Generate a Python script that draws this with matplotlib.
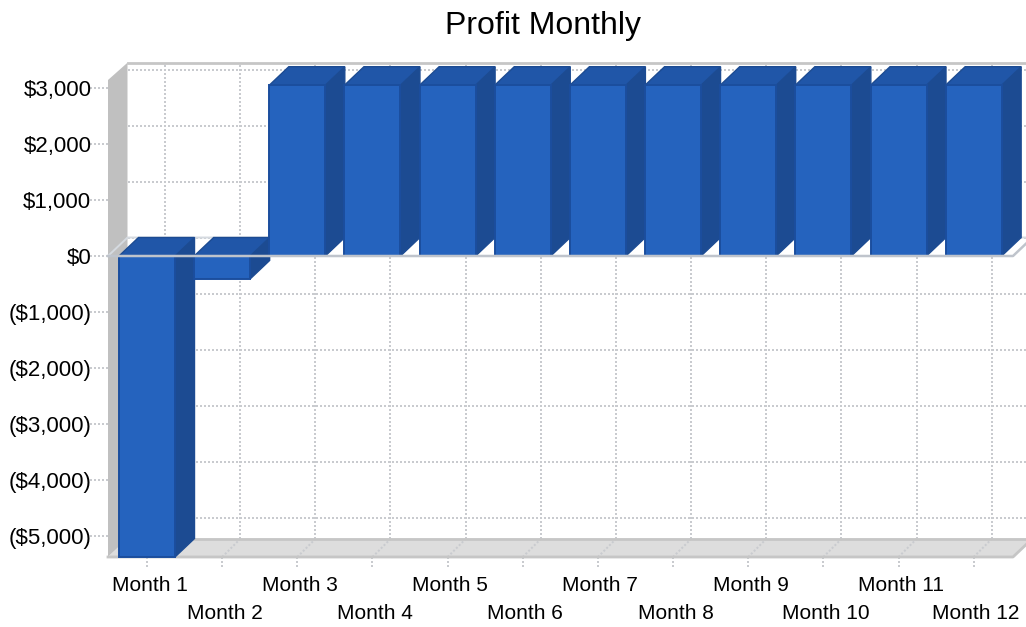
import matplotlib
matplotlib.use('Agg')
import matplotlib.pyplot as plt
from matplotlib.patches import Polygon
from matplotlib.transforms import ScaledTranslation

months = ['Month 1', 'Month 2', 'Month 3', 'Month 4', 'Month 5', 'Month 6',
          'Month 7', 'Month 8', 'Month 9', 'Month 10', 'Month 11', 'Month 12']
profit = [-5375, -410, 3050, 3050, 3050, 3050, 3050, 3050, 3050, 3050, 3050, 3050]
yticks = [3000, 2000, 1000, 0, -1000, -2000, -3000, -4000, -5000]
ylabels = ['$3,000', '$2,000', '$1,000', '$0', '($1,000)', '($2,000)',
           '($3,000)', '($4,000)', '($5,000)']

W, H = 1026, 627
FRONT = '#2563BE'
TOP = '#2056A8'
SIDE = '#1C4B92'
EDGE = '#1B4E9E'
WALL = '#C0C0C0'
FLOOR = '#DDDDDD'
LINE = '#C6C6C6'
GRID = '#C9CBCF'

plt.rcParams['font.family'] = ['Liberation Sans', 'DejaVu Sans']

fig = plt.figure(figsize=(W / 100, H / 100), dpi=100)
# axes rectangle is the front plane of the fake 3d box, in pixels
left, right, top, bottom = 108, 1013, 80, 557
ax = fig.add_axes([left / W, 1 - bottom / H, (right - left) / W, (bottom - top) / H])
ax.set_frame_on(False)

px_x = 75.15
px_y = 0.056
ax.set_xlim(1 + (left - 147) / px_x, 1 + (right - 147) / px_x)
ax.set_ylim((256 - bottom) / px_y, (256 - top) / px_y)
x0, x1 = ax.get_xlim()
y0, y1 = ax.get_ylim()

# depth of the box and bar width, in data units
dx = 19.5 / px_x
dy = 18.5 / px_y
gdx = 18 / px_x
gdy = 18 / px_y
bw = 56 / px_x
xs = list(range(1, 13))
ytop = y1 + 17.3 / px_y  # top of back wall

dots = dict(color=GRID, lw=1.44, ls=(0, (1, 1)), clip_on=False)

# back wall grid
for v in yticks:
    ax.plot([x0 + dx, x1 + dx], [v + gdy, v + gdy], zorder=1, **dots)
    ax.plot([x0 - 18 / px_x, x0], [v, v], zorder=1, **dots)
for x in xs:
    ax.plot([x + gdx, x + gdx], [y0 + dy, ytop], zorder=1, **dots)
    ax.plot([x, x], [y0, y0 - 11 / px_y], zorder=1, **dots)

# left wall and floor
ax.add_patch(Polygon([(x0, y0), (x0 + dx, y0 + dy), (x0 + dx, ytop), (x0, y1)],
                     fc=WALL, ec='none', clip_on=False, zorder=2))
ax.add_patch(Polygon([(x0, y0), (x1, y0), (x1 + dx, y0 + dy), (x0 + dx, y0 + dy)],
                     fc=FLOOR, ec='none', clip_on=False, zorder=2))
for x in xs:
    ax.plot([x, x + gdx], [y0, y0 + gdy], zorder=3, **dots)
ax.plot([x0, x1, x1 + dx], [y0, y0, y0 + dy], color=LINE, lw=2, clip_on=False, zorder=3)
ax.plot([x0 + dx, x1 + dx], [y0 + dy, y0 + dy], color=LINE, lw=2, clip_on=False, zorder=3)
ax.plot([x0 + dx, x1 + dx], [ytop, ytop], color=LINE, lw=2, clip_on=False, zorder=3)

# zero plane, back edge and left edge
ax.plot([x0, x0 + dx, x1 + dx], [0, dy, dy], color='#D5DAE0', lw=1.4, clip_on=False, zorder=3)

# bars, left to right so each one covers the side of the last
z = 4
for x, v in zip(xs, profit):
    a = x - bw / 2
    b = x + bw / 2
    hi = max(v, 0)
    lo = min(v, 0)
    ax.add_patch(Polygon([(b, lo), (b + dx, lo + dy), (b + dx, hi + dy), (b, hi)],
                         fc=SIDE, ec=SIDE, lw=1, clip_on=False, zorder=z))
    ax.add_patch(Polygon([(a, hi), (b, hi), (b + dx, hi + dy), (a + dx, hi + dy)],
                         fc=TOP, ec=SIDE, lw=1, clip_on=False, zorder=z))
    ax.add_patch(Polygon([(a, lo), (b, lo), (b, hi), (a, hi)],
                         fc=FRONT, ec=EDGE, lw=1.4, clip_on=False, zorder=z))
    z += 1

# zero plane, front edge goes over the bars
ax.plot([x0, x1, x1 + dx], [0, 0, dy], color='#BFC4CC', lw=1.8, clip_on=False, zorder=z)

ax.set_yticks(yticks)
ax.set_yticklabels(ylabels)
ax.set_xticks(xs)
ax.set_xticklabels(months)
ax.tick_params(axis='both', length=0, labelcolor='black')
ax.tick_params(axis='y', pad=12, labelsize=16)
ax.tick_params(axis='x', pad=13.7, labelsize=15)
for i, t in enumerate(ax.xaxis.get_major_ticks()):
    if i % 2 == 1:
        t.set_pad(33.7)
    t.label1.set_transform(t.label1.get_transform()
                           + ScaledTranslation(2.5 / 100, 0, fig.dpi_scale_trans))

fig.text(543 / W, 1 - 26 / H, 'Profit Monthly', fontsize=23, ha='center', va='center')

fig.savefig('out.png', dpi=100)
